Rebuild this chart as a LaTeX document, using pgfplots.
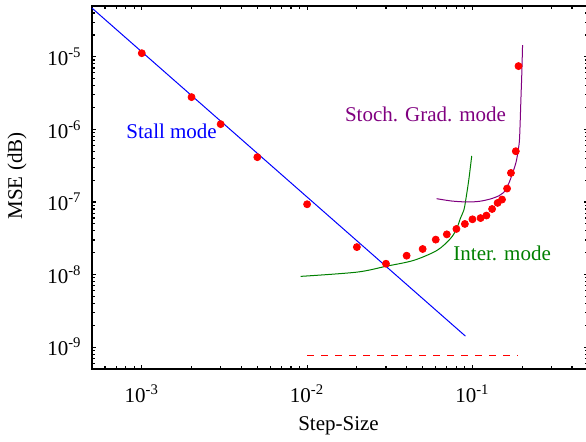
\documentclass[border=0pt]{standalone}
\usepackage{fontspec}
\setmainfont{Liberation Serif}
\usepackage{pgfplots}
\pgfplotsset{compat=1.18}
\definecolor{stochpurple}{RGB}{128,0,128}
\definecolor{intergreen}{RGB}{0,128,0}

\begin{document}
\fontsize{10.5pt}{12.6pt}\selectfont
\begin{tikzpicture}
\begin{axis}[
    width=248pt, height=181.5pt, scale only axis,
    xmode=log, ymode=log,
    xmin=5e-4, xmax=0.5,
    ymin=5e-10, ymax=5e-5,
    xtick={1e-3,1e-2,1e-1},
    xticklabels={10\textsuperscript{-3},10\textsuperscript{-2},10\textsuperscript{-1}},
    ytick={1e-9,1e-8,1e-7,1e-6,1e-5},
    yticklabels={10\textsuperscript{-9},10\textsuperscript{-8},10\textsuperscript{-7},10\textsuperscript{-6},10\textsuperscript{-5}},
    minor xtick={6e-4,7e-4,8e-4,9e-4,2e-3,3e-3,4e-3,5e-3,6e-3,7e-3,8e-3,9e-3,
                 2e-2,3e-2,4e-2,5e-2,6e-2,7e-2,8e-2,9e-2,2e-1,3e-1,4e-1},
    minor ytick={6e-10,7e-10,8e-10,9e-10,2e-9,3e-9,4e-9,5e-9,6e-9,7e-9,8e-9,9e-9,
                 2e-8,3e-8,4e-8,5e-8,6e-8,7e-8,8e-8,9e-8,2e-7,3e-7,4e-7,5e-7,6e-7,7e-7,8e-7,9e-7,
                 2e-6,3e-6,4e-6,5e-6,6e-6,7e-6,8e-6,9e-6,2e-5,3e-5,4e-5},
    tick align=inside,
    major tick length=2pt, minor tick length=1.3pt,
    tick style={black, line width=0.6pt},
    axis line style={line width=1pt},
    xticklabel style={yshift=-4pt},
    yticklabel style={xshift=-1.5pt},
    xlabel={Step-Size}, ylabel={MSE (dB)},
    xlabel style={at={(axis description cs:0.497,-0.157)}, anchor=center},
    ylabel style={at={(axis description cs:-0.151,0.532)}, anchor=center},
]
% stall mode
\addplot[blue, line width=0.5pt] coordinates {(5e-4,4.68e-5) (0.0907,1.42e-9)};
% intermediate mode
\addplot[intergreen, line width=0.5pt, smooth] coordinates {
    (0.00914,9.44e-9) (0.02,1.08e-8) (0.03,1.30e-8) (0.0442,1.57e-8)
    (0.0612,2.16e-8) (0.0736,3.13e-8) (0.08,4.2e-8) (0.0847,6.0e-8)
    (0.0887,7.7e-8) (0.0907,1.0e-7) (0.095,2.0e-7) (0.099,4.3e-7)
};
% stochastic gradient mode
\addplot[stochpurple, line width=0.5pt, smooth] coordinates {
    (0.0607,1.11e-7) (0.075,1.03e-7) (0.0929,1.0e-7) (0.11,1.02e-7)
    (0.1285,1.1e-7) (0.145,1.22e-7) (0.1545,1.35e-7) (0.165,1.75e-7)
    (0.175,2.5e-7) (0.184,3.6e-7) (0.19,5.5e-7) (0.193,7.9e-7)
    (0.1967,2.8e-6) (0.199,6e-6) (0.201,1.45e-5)
};
% floor
\addplot[red, line width=0.5pt, dash pattern=on 3.5pt off 3.5pt] coordinates {(0.01,7.7e-10) (0.187,7.7e-10)};
% simulation
\addplot[only marks, mark=*, mark size=1.75pt, red] coordinates {
    (0.001,1.12e-5) (0.002,2.78e-6) (0.003,1.18e-6) (0.005,4.14e-7)
    (0.01,9.3e-8) (0.02,2.39e-8) (0.03,1.41e-8) (0.04,1.82e-8)
    (0.05,2.25e-8) (0.06,3.03e-8) (0.07,3.58e-8) (0.08,4.25e-8)
    (0.09,4.98e-8) (0.1,5.77e-8) (0.112,6.0e-8) (0.1215,6.5e-8)
    (0.1315,8.0e-8) (0.142,9.7e-8) (0.151,1.08e-7) (0.162,1.53e-7)
    (0.171,2.51e-7) (0.183,5.0e-7) (0.19,7.44e-6)
};
\node[blue, anchor=base west, inner sep=0pt] at (axis cs:8.03e-4,7.57e-7) {Stall mode};
\node[stochpurple, anchor=base west, inner sep=0pt] at (axis cs:0.01687,1.27e-6) {Stoch. Grad. mode};
\node[intergreen, anchor=base west, inner sep=0pt] at (axis cs:0.0764,1.57e-8) {Inter. mode};
\coordinate (sw) at (rel axis cs:0,0);
\coordinate (ne) at (rel axis cs:1,1);
\end{axis}
\pgfresetboundingbox
\path[use as bounding box] ([shift={(-46pt,-36pt)}]sw) rectangle ([shift={(-1pt,3pt)}]ne);
\end{tikzpicture}
\end{document}
